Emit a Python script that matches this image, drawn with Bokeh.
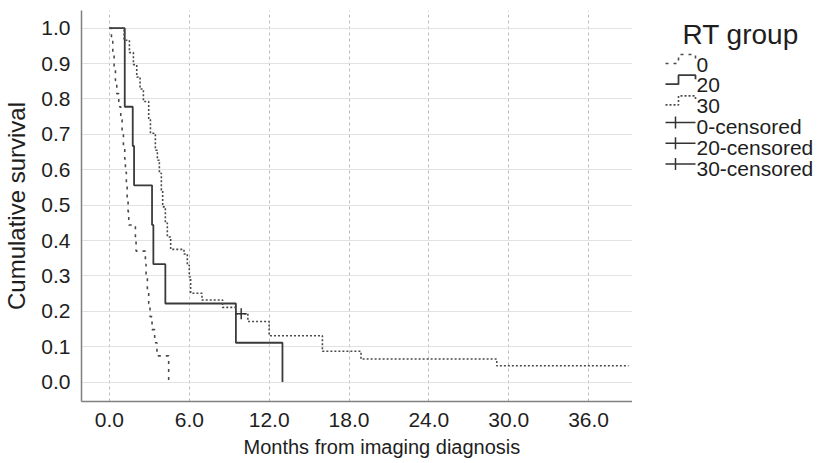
from bokeh.plotting import figure
from bokeh.layouts import row
from bokeh.models import Range1d, FixedTicker, PrintfTickFormatter, Title
from bokeh.core.properties import value
from bokeh.embed import file_html
from bokeh.resources import INLINE

# ---- data (Kaplan-Meier steps) ----
g0_time = [0.0, 0.15, 0.25, 0.35, 0.45, 0.55, 0.7, 0.85, 0.95, 1.05, 1.15, 1.2, 1.27,
           1.33, 1.4, 1.45, 1.95, 2.0, 2.7, 2.75, 2.85, 2.95, 3.05, 3.2, 3.4, 3.57, 4.45]
g0_surv = [1.0, 0.963, 0.926, 0.889, 0.852, 0.815, 0.778, 0.741, 0.704, 0.667, 0.630, 0.593, 0.556,
           0.519, 0.481, 0.444, 0.407, 0.370, 0.333, 0.296, 0.259, 0.222, 0.185, 0.148, 0.111, 0.074, 0.0]

g20_time = [0.0, 1.15, 1.75, 1.85, 3.2, 3.3, 4.2, 9.5, 13.0]
g20_surv = [1.0, 0.778, 0.667, 0.556, 0.444, 0.333, 0.222, 0.111, 0.0]

g30_time = [0.0, 1.1, 1.5, 1.8, 2.05, 2.3, 2.55, 2.95, 3.08, 3.45, 3.6, 3.75, 3.9, 4.0, 4.2,
            4.35, 4.6, 5.6, 5.85, 6.0, 6.1, 6.95, 8.5, 9.5, 10.4, 12.0, 16.0, 18.9, 29.1, 39.0]
g30_surv = [1.0, 0.966, 0.931, 0.897, 0.862, 0.828, 0.793, 0.741, 0.703, 0.655, 0.627, 0.590, 0.542, 0.495, 0.449,
            0.410, 0.375, 0.362, 0.330, 0.297, 0.251, 0.232, 0.211, 0.193, 0.171, 0.131, 0.087, 0.065, 0.046, 0.046]

cens30_time = [9.9]
cens30_surv = [0.193]

x_ticks = [0, 6, 12, 18, 24, 30, 36]
y_ticks = [0.0, 0.1, 0.2, 0.3, 0.4, 0.5, 0.6, 0.7, 0.8, 0.9, 1.0]
legend_title = "RT group"
group_labels = ["0", "20", "30", "0-censored", "20-censored", "30-censored"]

FONT = "Liberation Sans"
TXT = "#1e1e1e"
LINE = "#4a4a4a"
STYLE0 = dict(line_color=LINE, line_width=1.6, line_dash="3 5")
STYLE20 = dict(line_color="#3a3a3a", line_width=1.8)
STYLE30 = dict(line_color=LINE, line_width=1.6, line_dash="2 2")
CENS = dict(line_color="#333333", line_width=1.5)

H = 461
PW = 632
QW = 814 - PW
TOP, BOTTOM = 10, 60

p = figure(width=PW, height=H, output_backend="svg", toolbar_location=None,
           x_range=Range1d(-2.1, 39.3), y_range=Range1d(-0.055, 1.05),
           min_border_left=74, min_border_right=0, min_border_top=TOP, min_border_bottom=BOTTOM)
p.outline_line_color = None

# grid
p.xgrid.grid_line_color = "#bcbcbc"
p.xgrid.grid_line_dash = "3 3"
p.ygrid.grid_line_color = "#e2e2e2"

# axes
for ax in (p.xaxis[0], p.yaxis[0]):
    ax.major_tick_line_color = None
    ax.minor_tick_line_color = None
    ax.axis_line_color = "#808080"
    ax.axis_line_width = 1.5
    ax.major_label_text_font = FONT
    ax.major_label_text_font_size = "21px"
    ax.major_label_text_color = TXT
    ax.axis_label_text_font = FONT
    ax.axis_label_text_font_style = "normal"
    ax.axis_label_text_color = TXT
    ax.formatter = PrintfTickFormatter(format="%.1f")

p.xaxis.ticker = FixedTicker(ticks=x_ticks)
p.yaxis.ticker = FixedTicker(ticks=y_ticks)
p.yaxis.axis_label = "Cumulative survival"
p.yaxis.axis_label_text_font_size = "24px"
p.xaxis.major_label_standoff = 5
p.yaxis.major_label_standoff = 5
p.yaxis.axis_label_standoff = 8

# x-axis title (below the axis, placed right of centre like the reference)
p.add_layout(Title(text="Months from imaging diagnosis", align="left", offset=162,
                   text_font=FONT, text_font_size="20px", text_font_style="normal",
                   text_color=TXT, standoff=8), "below")

# curves
p.step(g0_time, g0_surv, mode="after", **STYLE0)
p.step(g20_time, g20_surv, mode="after", **STYLE20)
p.step(g30_time, g30_surv, mode="after", **STYLE30)
p.scatter(cens30_time, cens30_surv, marker="cross", size=11, **CENS)

# ---- legend panel: a separate figure whose data units are page pixels ----
QL = 633
q = figure(width=QW, height=H, output_backend="svg", toolbar_location=None,
           x_range=Range1d(QL, QL + QW), y_range=Range1d(H - BOTTOM, TOP),
           x_axis_location=None, y_axis_location=None,
           min_border_left=0, min_border_right=0, min_border_top=TOP, min_border_bottom=BOTTOM)
q.outline_line_color = None
q.xgrid.visible = False
q.ygrid.visible = False

ICON_L, ICON_STEP, ICON_R, CROSS_X, TEXT_X, TITLE_X = 666, 679, 696, 676, 697, 683
ROW0, PITCH = 64.5, 20.7
LINE_SHIFT, TEXT_SHIFT = -4.5, -8.0
centers = [ROW0 + i * PITCH for i in range(len(group_labels))]

q.text(x=[TITLE_X], y=[42 + TEXT_SHIFT], text=[legend_title], text_font=value(FONT),
       text_font_size="28px", text_color=TXT, text_baseline="alphabetic")
q.text(x=[TEXT_X] * len(group_labels), y=[c + 7.5 + TEXT_SHIFT for c in centers], text=group_labels,
       text_font=value(FONT), text_font_size="21px", text_color=TXT, text_baseline="alphabetic")

for style, c in zip([STYLE0, STYLE20, STYLE30], centers[:3]):
    c = c + LINE_SHIFT
    q.line([ICON_L, ICON_STEP, ICON_STEP, ICON_R, ICON_R], [c + 3, c + 3, c - 6, c - 6, c - 2], **style)
for c in centers[3:]:
    c = c + LINE_SHIFT
    q.line([ICON_L, ICON_R], [c, c], **CENS)
    q.line([CROSS_X, CROSS_X], [c - 6, c + 6], **CENS)

layout = row(p, q, spacing=0)
open("out.html", "w").write(file_html(layout, INLINE))
